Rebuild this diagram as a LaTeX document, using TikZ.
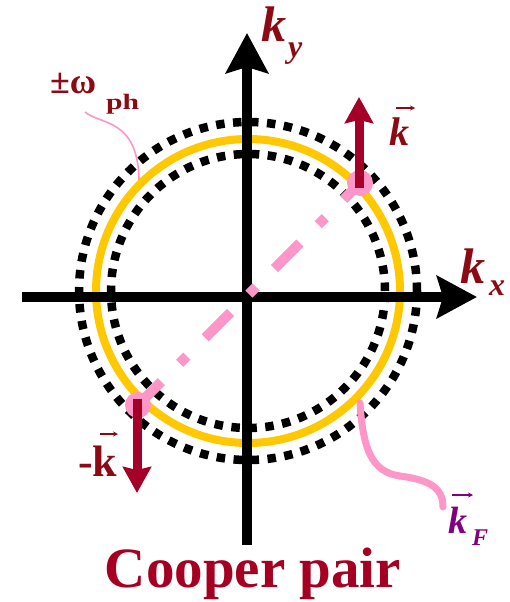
\documentclass[tikz,border=0pt]{standalone}
\usepackage{fontspec}
\setmainfont{Liberation Serif}
\usetikzlibrary{arrows.meta,calc}
\definecolor{labc}{RGB}{140,10,20}
\definecolor{arrc}{RGB}{165,0,40}
\definecolor{titc}{RGB}{165,0,33}
\definecolor{purc}{RGB}{128,0,128}
\definecolor{pinkc}{RGB}{255,150,200}
\definecolor{yelc}{RGB}{255,200,0}
\newcommand\myfs[1]{\fontsize{#1}{#1}\selectfont}
\tikzset{
  axisline/.style={line width=10pt, black, -{Stealth[length=40pt,width=42pt,inset=6pt]}},
  dotcirc/.style={line width=8.5pt, black, dash pattern=on 8.5pt off 8.5pt},
  redarrow/.style={line width=9pt, arrc, -{Stealth[length=26pt,width=28pt,inset=3pt]}},
  blob/.style={circle, fill=pinkc, minimum size=26pt, inner sep=0pt},
  lbl/.style={anchor=base west, inner sep=0pt},
  vecarrow/.style={line width=1.4pt, -{Stealth[length=5pt,width=5pt]}}
}
\begin{document}
\begin{tikzpicture}[x=1pt,y=-1pt]
\useasboundingbox (0,0) rectangle (509,602);
\coordinate (O) at (248,291);
% Fermi circle and shell
\draw[yelc, line width=8pt] (O) circle[radius=152pt];
\draw[dotcirc] (O) circle[radius=169pt];
\draw[dotcirc] (O) circle[radius=137pt];
% axes
\coordinate (xl) at (22,297);
\coordinate (xr) at (477,297);
\coordinate (yb) at (247,545);
\coordinate (yt) at (247,33);
\draw[axisline] (xl) -- (xr);
\draw[axisline] (yb) -- (yt);
% pair line
\coordinate (pA) at (360,183);
\coordinate (pB) at (138,405);
\draw[pinkc, line width=10pt, dash pattern=on 36pt off 26pt on 10pt off 26pt, dash phase=13pt] (pA) -- (pB);
\node[blob] (bA) at (pA) {};
\node[blob] (bB) at (pB) {};
% momentum arrows
\coordinate (tA) at (359,97);
\coordinate (tB) at (137,493);
\draw[redarrow] ($(bA.center)+(-1,5)$) -- (tA);
\draw[redarrow] ($(bB.center)+(-1,-6)$) -- (tB);
% omega leader
\coordinate (w1) at (85,112);
\coordinate (w2) at (139,180);
\draw[pinkc, line width=1.6pt] (w1) .. controls (100,125) and (138,118) .. (w2);
% kF leader
\coordinate (f1) at (360,403);
\coordinate (fm) at (400,476);
\coordinate (f2) at (443,507);
\draw[pinkc, line width=7pt, line cap=round] (f1) .. controls (363,450) and (372,472) .. (fm) .. controls (430,480) and (443,488) .. (f2);
% axis labels
\node[lbl, text=labc, font=\myfs{50}\bfseries\itshape] (kx) at (460,283) {k};
\node[lbl, text=labc, font=\myfs{32}\bfseries\itshape] (kxs) at (489,295) {x};
\node[lbl, text=labc, font=\myfs{50}\bfseries\itshape] (ky) at (261,42) {k};
\node[lbl, text=labc, font=\myfs{32}\bfseries\itshape] (kys) at (288,57) {y};
% vector k labels
\node[lbl, text=labc, font=\myfs{40}\bfseries\itshape] (kv) at (389,145) {k};
\draw[vecarrow, labc] ($(kv.base west)+(7,-37)$) -- ($(kv.base west)+(26,-37)$);
\node[lbl, text=labc, font=\myfs{44}\bfseries] (mk) at (78,476) {-k};
\draw[vecarrow, labc] ($(mk.base west)+(22,-42)$) -- ($(mk.base west)+(40,-42)$);
\node[lbl, text=purc, font=\myfs{38}\bfseries\itshape] (kf) at (448,533) {k};
\node[lbl, text=purc, font=\myfs{24}\bfseries\itshape] (kfs) at (472,545) {F};
\draw[vecarrow, purc] ($(kf.base west)+(4,-38)$) -- ($(kf.base west)+(25,-38)$);
% omega label
\node[lbl, text=labc, font=\myfs{36}\bfseries] (om) at (50,93) {±ω};
\node[lbl, text=labc, font=\myfs{22}\bfseries] (ph) at (106,109) {\scalebox{1.35}[1]{ph}};
% title
\node[anchor=base, inner sep=0pt, text=titc, font=\myfs{57}\bfseries] (title) at (253,587) {Cooper pair};
\end{tikzpicture}
\end{document}
